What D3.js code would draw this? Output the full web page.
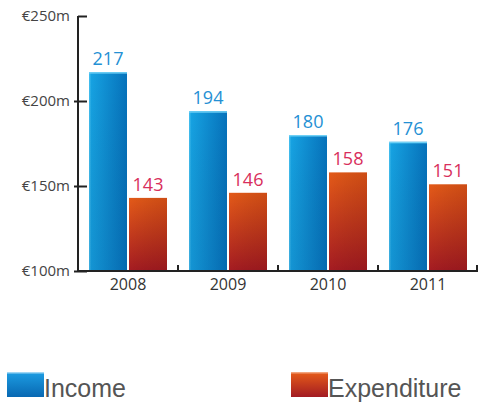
<!DOCTYPE html>
<html>
<head>
<meta charset="utf-8">
<script src="https://cdn.jsdelivr.net/npm/d3@7"></script>
<style>
  html, body { margin: 0; padding: 0; background: #fff; }
  svg { display: block; }
</style>
</head>
<body>
<svg id="chart" width="478" height="403"></svg>
<script>
// Income and expenditure per year, in € millions
const years = ["2008", "2009", "2010", "2011"];
const income = [217, 194, 180, 176];
const expenditure = [143, 146, 158, 151];
const seriesNames = ["Income", "Expenditure"];
const yTicks = [100, 150, 200, 250];

const svg = d3.select("#chart");
const defs = svg.append("defs");

// Bar fills
const gInc = defs.append("linearGradient").attr("id", "incBar")
  .attr("x1", 0).attr("y1", 0).attr("x2", 1).attr("y2", 0);
gInc.append("stop").attr("offset", "0%").attr("stop-color", "#4cc4f2");
gInc.append("stop").attr("offset", "6%").attr("stop-color", "#16a2e2");
gInc.append("stop").attr("offset", "100%").attr("stop-color", "#0672bb");

const gIncV = defs.append("linearGradient").attr("id", "incShade")
  .attr("x1", 0).attr("y1", 0).attr("x2", 0).attr("y2", 1);
gIncV.append("stop").attr("offset", "0%").attr("stop-color", "#000").attr("stop-opacity", 0);
gIncV.append("stop").attr("offset", "100%").attr("stop-color", "#002a60").attr("stop-opacity", 0.12);

const gExp = defs.append("linearGradient").attr("id", "expBar")
  .attr("x1", 0).attr("y1", 0).attr("x2", 0).attr("y2", 1);
gExp.append("stop").attr("offset", "0%").attr("stop-color", "#e45a18");
gExp.append("stop").attr("offset", "100%").attr("stop-color", "#a41b22");

const gExpH = defs.append("linearGradient").attr("id", "expShade")
  .attr("x1", 0).attr("y1", 0).attr("x2", 1).attr("y2", 0);
gExpH.append("stop").attr("offset", "0%").attr("stop-color", "#000").attr("stop-opacity", 0);
gExpH.append("stop").attr("offset", "100%").attr("stop-color", "#500000").attr("stop-opacity", 0.15);

// Legend swatch fills
const sInc = defs.append("linearGradient").attr("id", "incSwatch")
  .attr("x1", 0).attr("y1", 0).attr("x2", 0).attr("y2", 1);
sInc.append("stop").attr("offset", "0%").attr("stop-color", "#bfe6fa");
sInc.append("stop").attr("offset", "10%").attr("stop-color", "#1b98de");
sInc.append("stop").attr("offset", "100%").attr("stop-color", "#0868b2");

const sExp = defs.append("linearGradient").attr("id", "expSwatch")
  .attr("x1", 0).attr("y1", 0).attr("x2", 0).attr("y2", 1);
sExp.append("stop").attr("offset", "0%").attr("stop-color", "#f7b896");
sExp.append("stop").attr("offset", "10%").attr("stop-color", "#e0561a");
sExp.append("stop").attr("offset", "100%").attr("stop-color", "#a21b22");

// Scales
const y = d3.scaleLinear().domain([100, 250]).range([271, 16]);
const x = d3.scaleBand().domain(years).range([78, 478]).paddingInner(0).paddingOuter(0);
const xs = d3.scaleBand().domain(seriesNames).range([11, 89]).paddingInner(0.05);

const rows = years.map((yr, i) => ({ year: yr, Income: income[i], Expenditure: expenditure[i] }));

const fills = { Income: "url(#incBar)", Expenditure: "url(#expBar)" };
const shades = { Income: "url(#incShade)", Expenditure: "url(#expShade)" };
const labelColors = { Income: "#2490d4", Expenditure: "#d82f5c" };

const groups = svg.append("g").selectAll("g").data(rows).join("g")
  .attr("transform", d => `translate(${x(d.year)},0)`);

const cells = groups.selectAll("g").data(d => seriesNames.map(k => ({ key: k, value: d[k] })))
  .join("g");

cells.append("rect")
  .attr("x", d => xs(d.key)).attr("width", xs.bandwidth())
  .attr("y", d => y(d.value)).attr("height", d => y(100) - y(d.value))
  .attr("fill", d => fills[d.key]);
cells.append("rect")
  .attr("x", d => xs(d.key)).attr("width", xs.bandwidth())
  .attr("y", d => y(d.value)).attr("height", d => y(100) - y(d.value))
  .attr("fill", d => shades[d.key]);
// light top edge on income bars
cells.filter(d => d.key === "Income").append("rect")
  .attr("x", d => xs(d.key)).attr("width", xs.bandwidth())
  .attr("y", d => y(d.value)).attr("height", 1.5)
  .attr("fill", "#6fd0f5");

cells.append("text")
  .attr("x", d => xs(d.key) + xs.bandwidth() / 2)
  .attr("y", d => y(d.value) - 7)
  .attr("text-anchor", "middle")
  .attr("font-family", "'Open Sans', sans-serif")
  .attr("font-size", 18)
  .attr("fill", d => labelColors[d.key])
  .text(d => d.value);

// Y axis
const yAxis = svg.append("g").attr("transform", "translate(78,0)")
  .call(d3.axisLeft(y).tickValues(yTicks).tickSize(0).tickPadding(8)
    .tickFormat(d => `€${d}m`));
yAxis.select(".domain").remove();
yAxis.selectAll("text")
  .attr("font-family", "'Open Sans', sans-serif")
  .attr("font-size", 15)
  .attr("fill", "#444");
yAxis.append("line").attr("x1", 0).attr("x2", 0).attr("y1", y(250)).attr("y2", y(100))
  .attr("stroke", "#222").attr("stroke-width", 2);
yAxis.selectAll(".tick").append("line")
  .attr("x1", d => d === 250 ? 0 : -4).attr("x2", 9)
  .attr("stroke", "#222").attr("stroke-width", 2);

// X axis
const xAxis = svg.append("g").attr("transform", `translate(0,${y(100)})`)
  .call(d3.axisBottom(x).tickSize(0).tickPadding(8));
xAxis.select(".domain").remove();
xAxis.selectAll("text")
  .attr("font-family", "'Open Sans', sans-serif")
  .attr("font-size", 16)
  .attr("fill", "#333");
xAxis.append("line").attr("x1", 77).attr("x2", 478).attr("y1", 0).attr("y2", 0)
  .attr("stroke", "#222").attr("stroke-width", 2);
xAxis.selectAll(".sep").data(years.slice(1).concat([null])).join("line")
  .attr("class", "sep")
  .attr("x1", d => d ? x(d) : x.range()[1] - 1)
  .attr("x2", d => d ? x(d) : x.range()[1] - 1)
  .attr("y1", 0).attr("y2", -6)
  .attr("stroke", "#222").attr("stroke-width", 2);

// Legend
const legend = svg.append("g");
const legendItems = [
  { name: seriesNames[0], fill: "url(#incSwatch)", x: 7 },
  { name: seriesNames[1], fill: "url(#expSwatch)", x: 291 }
];
const li = legend.selectAll("g").data(legendItems).join("g")
  .attr("transform", d => `translate(${d.x},372)`);
li.append("rect").attr("width", 37).attr("height", 25).attr("fill", d => d.fill);
li.append("text").attr("x", 37).attr("y", 25)
  .attr("font-family", "'Liberation Sans', Arial, sans-serif")
  .attr("font-size", 25)
  .attr("fill", "#555")
  .text(d => d.name);
</script>
</body>
</html>
